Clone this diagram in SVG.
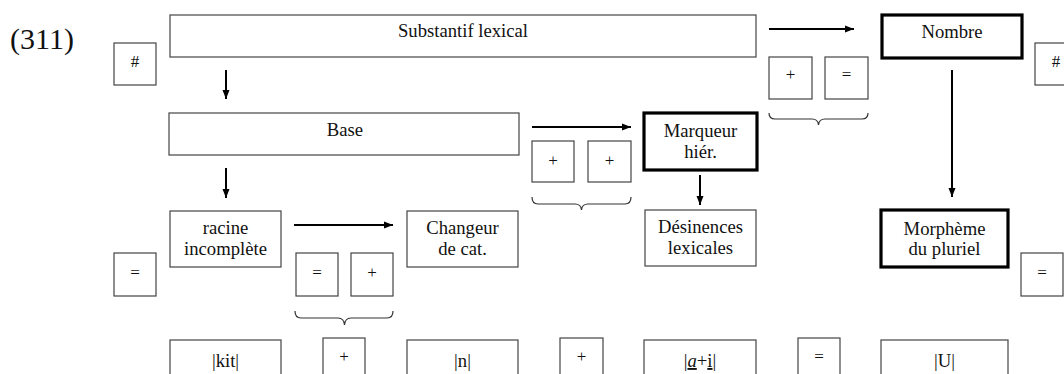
<svg xmlns="http://www.w3.org/2000/svg" width="1064" height="374" viewBox="0 0 1064 374">
<style>
text{font-family:"Liberation Serif","Times New Roman",serif;fill:#111;text-anchor:middle}
.t{font-size:18.67px}
.s{font-size:17px}
.box{fill:#fff;stroke:#444;stroke-width:1.2}
.thick{fill:#fff;stroke:#000;stroke-width:3.2}
.arr{stroke:#000;stroke-width:2;fill:none}
.br{stroke:#333;stroke-width:1.2;fill:none}
</style>
<defs>
<marker id="ah" markerUnits="userSpaceOnUse" markerWidth="9" markerHeight="8" refX="9" refY="4" orient="auto">
<path d="M0,0.5 L9,4 L0,7.5 z" fill="#000"/>
</marker>
</defs>
<rect width="1064" height="374" fill="#fff"/>
<text x="10" y="49" style="font-size:30px;text-anchor:start">(311)</text>

<g id="n-hash-left"><rect class="box" x="114" y="43" width="42" height="42"/><text class="s" x="135" y="67">#</text></g>
<g id="n-substantif"><rect class="box" x="170" y="15" width="586" height="42"/><text class="t" x="463" y="37">Substantif lexical</text></g>
<g id="n-nombre"><rect class="thick" x="882" y="15" width="140" height="43"/><text class="t" x="952" y="38">Nombre</text></g>
<g id="n-hash-right"><rect class="box" x="1035" y="43" width="42" height="42"/><text class="s" x="1056" y="67">#</text></g>
<g id="n-op1"><rect class="box" x="769" y="57" width="43" height="42"/><text class="s" x="790.5" y="80">+</text></g>
<g id="n-op2"><rect class="box" x="825" y="57" width="43" height="42"/><text class="s" x="846.5" y="80">=</text></g>

<g id="n-base"><rect class="box" x="169" y="113" width="350" height="42"/><text class="t" x="345" y="136">Base</text></g>
<g id="n-marqueur"><rect class="thick" x="644" y="113" width="113" height="57"/><text class="t" x="700.5" y="137">Marqueur</text><text class="t" x="700.5" y="158">hiér.</text></g>
<g id="n-op3"><rect class="box" x="532" y="141" width="42" height="41"/><text class="s" x="553" y="166">+</text></g>
<g id="n-op4"><rect class="box" x="588" y="141" width="43" height="41"/><text class="s" x="609.5" y="166">+</text></g>

<g id="n-racine"><rect class="box" x="170" y="211" width="111" height="56"/><text class="t" x="225.5" y="234">racine</text><text class="t" x="225.5" y="255">incomplète</text></g>
<g id="n-changeur"><rect class="box" x="407" y="211" width="111" height="56"/><text class="t" x="462.5" y="234">Changeur</text><text class="t" x="462.5" y="255">de cat.</text></g>
<g id="n-desinences"><rect class="box" x="645" y="210" width="111" height="56"/><text class="t" x="700.5" y="233">Désinences</text><text class="t" x="700.5" y="254">lexicales</text></g>
<g id="n-morpheme"><rect class="thick" x="881" y="210" width="127" height="57"/><text class="t" x="944.5" y="235">Morphème</text><text class="t" x="944.5" y="255">du pluriel</text></g>
<g id="n-eq-left"><rect class="box" x="114" y="253" width="42" height="43"/><text class="s" x="135" y="278">=</text></g>
<g id="n-op5"><rect class="box" x="296" y="253" width="42" height="43"/><text class="s" x="317" y="278">=</text></g>
<g id="n-op6"><rect class="box" x="351" y="253" width="42" height="43"/><text class="s" x="372" y="278">+</text></g>
<g id="n-eq-right"><rect class="box" x="1021" y="253" width="42" height="43"/><text class="s" x="1042" y="278">=</text></g>

<g id="n-kit"><rect class="box" x="170" y="340" width="111" height="42"/><text class="t" x="225.5" y="367">|kit|</text></g>
<g id="n-plus1"><rect class="box" x="323" y="338" width="42" height="44"/><text class="s" x="344" y="362">+</text></g>
<g id="n-n"><rect class="box" x="407" y="340" width="111" height="42"/><text class="t" x="462.5" y="367">|n|</text></g>
<g id="n-plus2"><rect class="box" x="560" y="338" width="43" height="44"/><text class="s" x="581.5" y="362">+</text></g>
<g id="n-ai"><rect class="box" x="644" y="340" width="112" height="42"/><text class="t" x="700" y="367">|<tspan font-style="italic" text-decoration="underline">a</tspan>+<tspan text-decoration="underline">i</tspan>|</text></g>
<g id="n-eq2"><rect class="box" x="798" y="338" width="42" height="44"/><text class="s" x="819" y="362">=</text></g>
<g id="n-u"><rect class="box" x="881" y="340" width="127" height="42"/><text class="t" x="944.5" y="367">|U|</text></g>

<g id="connectors">
<line class="arr" x1="769" y1="29" x2="854" y2="29" marker-end="url(#ah)"/>
<line class="arr" x1="532" y1="127" x2="631" y2="127" marker-end="url(#ah)"/>
<line class="arr" x1="294" y1="225" x2="393" y2="225" marker-end="url(#ah)"/>
<line class="arr" x1="226" y1="70" x2="226" y2="99" marker-end="url(#ah)"/>
<line class="arr" x1="226" y1="168" x2="226" y2="198" marker-end="url(#ah)"/>
<line class="arr" x1="700" y1="175" x2="700" y2="205" marker-end="url(#ah)"/>
<line class="arr" x1="952" y1="70" x2="952" y2="197" marker-end="url(#ah)"/>
<path class="br" d="M769,113 Q769,119 775,119 L812,119 Q818,119 818.5,125 Q819,119 825,119 L862,119 Q868,119 868,113"/>
<path class="br" d="M532,197 Q532,204 538,204 L575,204 Q581,204 581.5,210 Q582,204 588,204 L625,204 Q631,204 631,197"/>
<path class="br" d="M295,311 Q295,318 301,318 L338,318 Q344,318 344.5,325 Q345,318 351,318 L387,318 Q393,318 393,311"/>
</g>
</svg>
